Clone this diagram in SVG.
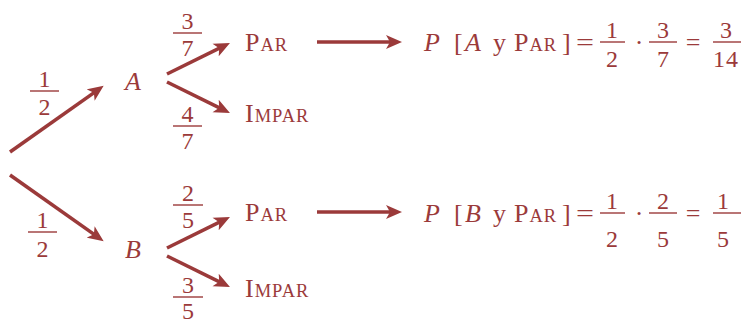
<svg xmlns="http://www.w3.org/2000/svg" width="741" height="324" viewBox="0 0 741 324">
<style>
text{font-family:"Liberation Serif","Times New Roman",serif;fill:#9b3a3a;font-size:26px}
.it{font-style:italic}
.sc{font-size:18.5px}
.d{font-size:24px;text-anchor:middle}
.m{text-anchor:middle}
.bar{stroke:#9b3a3a;stroke-width:1.4}
.edge{stroke:#9b3a3a;stroke-width:3.6;fill:none;marker-end:url(#ah)}
</style>
<defs>
<marker id="ah" markerUnits="userSpaceOnUse" markerWidth="17" markerHeight="15" refX="6" refY="7" orient="auto" viewBox="0 0 17 14">
<path d="M0,0 L16,7 L0,14 L4,7 z" fill="#9b3a3a"/>
</marker>
</defs>
<g id="connectors">
<line class="edge" x1="10" y1="152" x2="95.5" y2="91.6"/>
<line class="edge" x1="10" y1="175" x2="95.5" y2="235.4"/>
<line class="edge" x1="167" y1="74" x2="221" y2="47.4"/>
<line class="edge" x1="167" y1="82" x2="221" y2="108.6"/>
<line class="edge" x1="167" y1="248" x2="221" y2="221.4"/>
<line class="edge" x1="167" y1="256" x2="221" y2="282.6"/>
<line class="edge" x1="317" y1="42" x2="392" y2="42"/>
<line class="edge" x1="317" y1="212" x2="392" y2="212"/>
</g>
<g id="p-root-a">
<text class="d" x="44.5" y="87">1</text><line class="bar" x1="30" y1="91" x2="59" y2="91"/><text class="d" x="44.5" y="115">2</text>
</g>
<g id="p-root-b">
<text class="d" x="42.5" y="228">1</text><line class="bar" x1="28" y1="232" x2="57" y2="232"/><text class="d" x="42.5" y="257">2</text>
</g>
<g id="node-a"><text class="it" x="125" y="90">A</text></g>
<g id="node-b"><text class="it" x="125" y="258">B</text></g>
<g id="p-a-par">
<text class="d" x="187.5" y="29">3</text><line class="bar" x1="173" y1="33" x2="202" y2="33"/><text class="d" x="187.5" y="56">7</text>
</g>
<g id="p-a-impar">
<text class="d" x="187.5" y="122">4</text><line class="bar" x1="173" y1="126" x2="202" y2="126"/><text class="d" x="187.5" y="149">7</text>
</g>
<g id="p-b-par">
<text class="d" x="188" y="201">2</text><line class="bar" x1="173" y1="205" x2="203" y2="205"/><text class="d" x="188" y="228">5</text>
</g>
<g id="p-b-impar">
<text class="d" x="188" y="293">3</text><line class="bar" x1="173" y1="297" x2="203" y2="297"/><text class="d" x="188" y="319">5</text>
</g>
<g id="node-a-par"><text x="245" y="51" letter-spacing="1">P<tspan class="sc">AR</tspan></text></g>
<g id="node-a-impar"><text x="245" y="122" letter-spacing="1">I<tspan class="sc">MPAR</tspan></text></g>
<g id="node-b-par"><text x="245" y="221" letter-spacing="1">P<tspan class="sc">AR</tspan></text></g>
<g id="node-b-impar"><text x="245" y="297" letter-spacing="1">I<tspan class="sc">MPAR</tspan></text></g>
<g id="result-a">
<text class="it" x="424" y="51">P</text>
<text x="454" y="51">[</text>
<text class="it" x="465" y="51">A</text>
<text x="493" y="51">y</text>
<text x="514" y="51" letter-spacing="1">P<tspan class="sc">AR</tspan></text>
<text x="562" y="51">]</text>
<text x="576" y="51" textLength="18" lengthAdjust="spacingAndGlyphs">=</text>
<text class="d" x="612" y="38">1</text><line class="bar" x1="600" y1="42" x2="625" y2="42"/><text class="d" x="612" y="67">2</text>
<text class="m" x="639" y="51">·</text>
<text class="d" x="663" y="38">3</text><line class="bar" x1="649" y1="42" x2="677" y2="42"/><text class="d" x="663" y="67">7</text>
<text class="m" x="693" y="51">=</text>
<text class="d" x="726" y="38">3</text><line class="bar" x1="713" y1="42" x2="741" y2="42"/><text class="d" x="726" y="67" letter-spacing="1">14</text>
</g>
<g id="result-b">
<text class="it" x="424" y="222">P</text>
<text x="454" y="222">[</text>
<text class="it" x="465" y="222">B</text>
<text x="493" y="222">y</text>
<text x="514" y="222" letter-spacing="1">P<tspan class="sc">AR</tspan></text>
<text x="562" y="222">]</text>
<text x="576" y="222" textLength="18" lengthAdjust="spacingAndGlyphs">=</text>
<text class="d" x="612" y="209">1</text><line class="bar" x1="600" y1="213" x2="625" y2="213"/><text class="d" x="612" y="247">2</text>
<text class="m" x="639" y="222">·</text>
<text class="d" x="663" y="209">2</text><line class="bar" x1="649" y1="213" x2="677" y2="213"/><text class="d" x="663" y="247">5</text>
<text class="m" x="693" y="222">=</text>
<text class="d" x="723" y="209">1</text><line class="bar" x1="713" y1="213" x2="741" y2="213"/><text class="d" x="723" y="247">5</text>
</g>
</svg>
